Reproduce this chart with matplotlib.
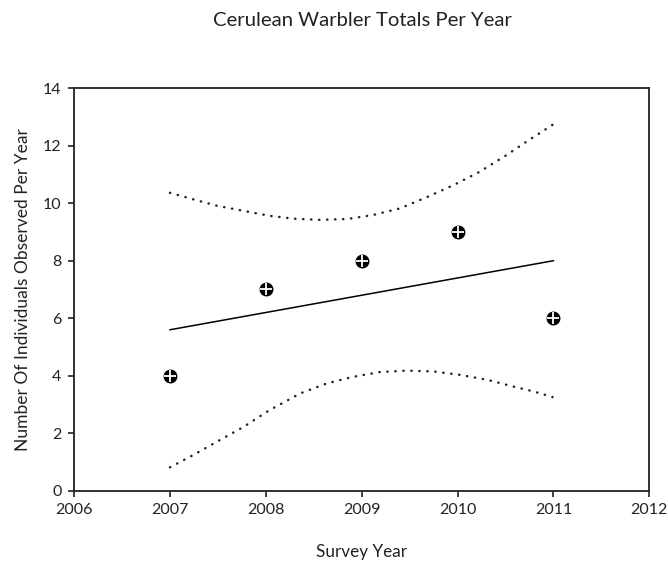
import matplotlib
matplotlib.use("Agg")
import matplotlib.pyplot as plt
import numpy as np

plt.rcParams['font.family'] = ['Lato', 'DejaVu Sans']

# observed totals
years = [2007, 2008, 2009, 2010, 2011]
counts = [4, 7, 8, 9, 6]

# regression line end points
fit_x = [2007, 2011]
fit_y = [5.6, 8.0]

# dotted band
upper_x = [2007.00, 2007.245, 2007.49, 2007.77, 2008.04, 2008.29, 2008.56, 2008.85,
           2009.12, 2009.40, 2009.68, 2009.96, 2010.23, 2010.51, 2010.72, 2010.99]
upper_y = [10.36, 10.13, 9.91, 9.73, 9.56, 9.46, 9.42, 9.45,
           9.59, 9.82, 10.21, 10.63, 11.09, 11.67, 12.14, 12.72]
lower_x = [2007.00, 2007.245, 2007.49, 2007.77, 2008.04, 2008.36, 2008.64, 2008.92,
           2009.19, 2009.47, 2009.75, 2010.03, 2010.31, 2010.59, 2010.80, 2010.99]
lower_y = [0.82, 1.25, 1.71, 2.23, 2.81, 3.39, 3.74, 3.97,
           4.13, 4.18, 4.15, 4.03, 3.86, 3.62, 3.45, 3.26]

xticks = [2006, 2007, 2008, 2009, 2010, 2011, 2012]
yticks = [0, 2, 4, 6, 8, 10, 12, 14]

fig = plt.figure(figsize=(6.68, 5.61), dpi=100)
ax = fig.add_axes([0.111, 0.125, 0.861, 0.718])

ax.plot(fit_x, fit_y, color='k', lw=1.1)
dots = dict(color='#222222', lw=1.8, linestyle=(0, (0.1, 3.1)), dash_capstyle='round')
ax.plot(upper_x, upper_y, **dots)
ax.plot(lower_x, lower_y, **dots)

ax.plot(years, counts, 'o', color='k', ms=9, zorder=3)
ax.plot(years, counts, '+', color='white', ms=9, mew=1.3, zorder=4)

ax.set_xlim(2006, 2012)
ax.set_ylim(0, 14)
ax.set_xticks(xticks)
ax.set_yticks(yticks)
ax.xaxis.set_major_formatter(matplotlib.ticker.FormatStrFormatter('%d'))
ax.tick_params(direction='out', length=4, width=1.2, labelsize=11.5, colors='#222222', pad=5)
for s in ax.spines.values():
    s.set_linewidth(1.3)
    s.set_color('#222222')

ax.set_xlabel("Survey Year", fontsize=12.3, color='#222222', labelpad=19)
ax.set_ylabel("Number Of Individuals Observed Per Year", fontsize=12.5, color='#222222', labelpad=9)
fig.text(0.542, 0.964, "Cerulean Warbler Totals Per Year", ha='center', va='center',
         fontsize=14.6, color='#222222')

fig.savefig("out.png", dpi=100)
